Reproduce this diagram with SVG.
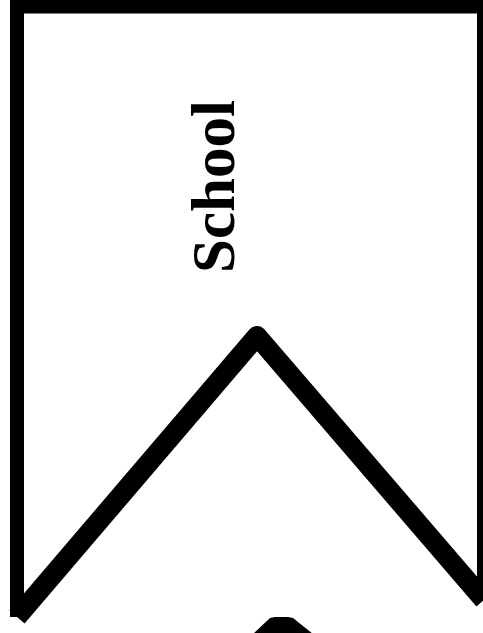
<svg xmlns="http://www.w3.org/2000/svg" width="483" height="633" viewBox="0 0 483 633">
  <style>
    .frame { fill: none; stroke: #000; stroke-width: 14; stroke-linejoin: miter; }
    .chevron { fill: none; stroke: #000; stroke-width: 20; stroke-linejoin: round; stroke-linecap: butt; }
    .label { font-family: "Liberation Serif", "Times New Roman", serif; font-weight: bold; font-size: 61px; fill: #000; }
  </style>
  <rect width="483" height="633" fill="#fff"/>
  <g id="banner">
    <path class="frame" d="M17,617 V6.5 H484 V600"/>
    <path class="chevron" d="M17,617 L257,336 L484,600"/>
    <text class="label" text-anchor="middle" transform="translate(234,186.5) rotate(-90)">School</text>
  </g>
  <g id="next-banner">
    <polygon points="253,634 270,618 275,617 288,617 293,618 313,634" fill="#000"/>
  </g>
</svg>
